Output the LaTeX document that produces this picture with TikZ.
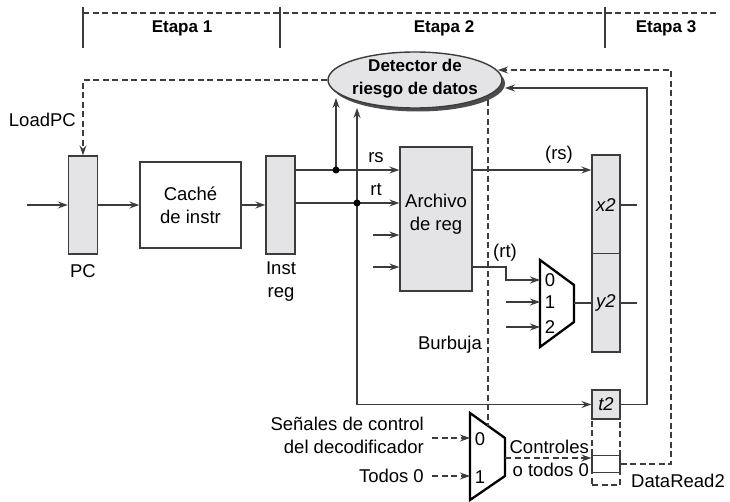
\documentclass[tikz,border=0pt]{standalone}
\usepackage{fontspec}
\setmainfont{Liberation Sans}
\usetikzlibrary{arrows.meta, shapes.geometric, shadows}
\definecolor{wirecol}{HTML}{3C3C3C}
\definecolor{regcol}{HTML}{E4E4E6}
\newcommand{\lblfont}{\fontsize{18.5}{23}\selectfont}
\newcommand{\stagefont}{\fontsize{17}{23}\selectfont\bfseries}
\tikzset{
    wire/.style={draw=wirecol, line width=1.4pt},
    arr/.style={wire, -{Stealth[length=10pt, width=7pt, inset=3.5pt]}},
    ctrl/.style={draw=wirecol, line width=1.3pt, dash pattern=on 6pt off 3.5pt},
    ctrlarr/.style={ctrl, -{Stealth[length=10pt, width=7pt, inset=3.5pt]}},
    pipereg/.style={draw=wirecol, line width=1.4pt, fill=regcol, minimum width=29pt, minimum height=98pt, inner sep=0, font=\lblfont},
    block/.style={draw=wirecol, line width=1.4pt, fill=white, inner sep=0, align=center, font=\lblfont},
    txt/.style={inner sep=0, align=center, font=\lblfont},
    boldtxt/.style={inner sep=0, align=center, font=\stagefont},
    junction/.style={circle, fill=black, inner sep=0, minimum size=7pt},
    muxbody/.style={draw=black, line width=2.3pt, line join=miter, fill=white},
    stagetick/.style={draw=wirecol, line width=1.2pt},
}

\begin{document}
\begin{tikzpicture}[x=1pt, y=-1pt]
    \useasboundingbox (0,0) rectangle (730,502);

    % stage bar
    \coordinate (barL) at (83,13);
    \coordinate (barR) at (716,13);
    \draw[ctrl, line width=1.1pt] (barL) -- (barR);
    \foreach \x in {83,280,605}
        \draw[stagetick] (\x,7) -- (\x,48);
    \node[boldtxt] (st1) at (182,28) {Etapa 1};
    \node[boldtxt] (st2) at (444,28) {Etapa 2};
    \node[boldtxt] (st3) at (666,28) {Etapa 3};

    % hazard detection unit
    \node[ellipse, draw=wirecol, line width=1.4pt, fill=regcol, minimum width=174pt, minimum height=56pt, inner sep=0,
          drop shadow={shadow xshift=3pt, shadow yshift=-3.5pt, fill=black!70, opacity=1}] (det) at (415,80) {};
    \node[boldtxt] (dettxt) at (415,78.5) {Detector de\\riesgo de datos};

    % stage 1 and 2 blocks
    \node[pipereg] (pc) at (83,205) {};
    \node[txt] (pclbl) at (83,271) {PC};
    \node[block, minimum width=101pt, minimum height=86pt] (cache) at (190.5,205) {Caché\\de instr};
    \node[pipereg] (ir) at (280.5,205) {};
    \node[txt] (irlbl) at (281,282) {Inst\\reg};
    \node[pipereg, minimum width=72pt, minimum height=144pt] (rf) at (436,219) {};
    \node[txt] (rftxt) at (436,214) {Archivo\\de reg};

    % stage 2/3 registers
    \node[pipereg, minimum width=28pt, minimum height=197pt] (rx) at (606,253.5) {};
    \draw[wire] (rx.west) -- (rx.east);
    \node[txt] (x2lbl) at (606,205) {\textit{x2}};
    \node[txt] (y2lbl) at (606,303) {\textit{y2}};
    \node[draw=wirecol, line width=1.3pt, dash pattern=on 6pt off 3.5pt, minimum width=28pt, minimum height=66pt, inner sep=0] (drbox) at (606,452) {};
    \node[pipereg, minimum width=28pt, minimum height=29pt] (t2) at (606,404.5) {\textit{t2}};
    \node[draw=wirecol, line width=1.4pt, fill=white, minimum width=28pt, minimum height=17pt, inner sep=0] (drreg) at (606,464) {};
    \node[txt] (drlbl) at (678,481) {DataRead2};

    % front end
    \coordinate (pcin) at (27,205);
    \draw[arr] (pcin) -- (pc);
    \draw[arr] (pc) -- (cache);
    \draw[arr] (cache) -- (ir);

    % LoadPC
    \coordinate (ldpc) at (83,80);
    \draw[ctrlarr] (det.west) -- (ldpc) -- (pc.north);
    \node[txt, anchor=east] (ldlbl) at (76,120) {LoadPC};

    % rs / rt fields
    \coordinate (rsj) at (336,170);
    \coordinate (rtj) at (357,203);
    \draw[arr] (ir.east |- rsj) -- (rsj -| rf.west);
    \draw[arr] (ir.east |- rtj) -- (rtj -| rf.west);
    \node[txt] (rslbl) at (376,158) {rs};
    \node[txt] (rtlbl) at (376,190) {rt};
    \coordinate (rstip) at (336,98);
    \coordinate (rttip) at (357,108);
    \draw[arr] (rsj) -- (rstip);
    \draw[arr] (rtj) -- (rttip);
    \draw[arr] (rtj) |- (t2.west);
    \coordinate (rfin3) at (373,235);
    \coordinate (rfin4) at (373,267);
    \draw[arr] (rfin3) -- (rfin3 -| rf.west);
    \draw[arr] (rfin4) -- (rfin4 -| rf.west);

    % data mux
    \coordinate (dmTL) at (540,260);
    \coordinate (dmTR) at (574,285);
    \coordinate (dmBR) at (574,322);
    \coordinate (dmBL) at (540,347);
    \draw[muxbody] (dmTL) -- (dmTR) -- (dmBR) -- (dmBL) -- cycle;
    \coordinate (dm0) at (540,280);
    \coordinate (dm1) at (540,302);
    \coordinate (dm2) at (540,327);
    \coordinate (dmout) at (574,303);
    \node[txt] (dm0lbl) at (550,280) {0};
    \node[txt] (dm1lbl) at (550,302) {1};
    \node[txt] (dm2lbl) at (550,327) {2};
    \coordinate (rtbend) at (506,267);
    \draw[arr] (rtbend -| rf.east) -- (rtbend) |- (dm0);
    \coordinate (dm1in) at (506,302);
    \coordinate (dm2in) at (506,327);
    \draw[arr] (dm1in) -- (dm1);
    \draw[arr] (dm2in) -- (dm2);
    \draw[wire] (dmout) -- (dmout -| rx.west);
    \node[txt] (rtolbl) at (505,253) {(rt)};
    \draw[arr] (rsj -| rf.east) -- (rsj -| rx.west);
    \node[txt] (rsolbl) at (559,155) {(rs)};

    % outputs of stage 2 register
    \coordinate (x2out) at (637,205);
    \coordinate (y2out) at (637,303);
    \draw[wire] (x2out -| rx.east) -- (x2out);
    \draw[wire] (y2out -| rx.east) -- (y2out);

    % control mux
    \coordinate (cmTL) at (470,413);
    \coordinate (cmTR) at (505,438);
    \coordinate (cmBR) at (505,476);
    \coordinate (cmBL) at (470,500);
    \draw[muxbody] (cmTL) -- (cmTR) -- (cmBR) -- (cmBL) -- cycle;
    \coordinate (cm0) at (470,438);
    \coordinate (cm1) at (470,476);
    \coordinate (cmout) at (505,458);
    \node[txt] (cm0lbl) at (480,439) {0};
    \node[txt] (cm1lbl) at (480,477) {1};
    \node[txt, align=right, anchor=east] (senlbl) at (424,435) {Señales de control\\del decodificador};
    \node[txt, anchor=east] (todlbl) at (424,476) {Todos 0};
    \coordinate (sen0) at (432,438);
    \coordinate (tod0) at (432,476);
    \draw[ctrlarr] (sen0) -- (cm0);
    \draw[ctrlarr] (tod0) -- (cm1);
    \draw[ctrlarr] (cmout) -- (cmout -| drreg.west);
    \node[txt, align=right, anchor=east] (ctllbl) at (589,458) {Controles\\o todos 0};

    % bubble
    \coordinate (bubtop) at (488,100);
    \coordinate (bubbot) at (488,426);
    \draw[ctrl] (bubtop) -- (bubbot);
    \node[txt, anchor=east] (bublbl) at (482,345) {Burbuja};

    % feedback to detector
    \coordinate (fbsolid) at (647,88);
    \coordinate (fbsolidtip) at (505,88);
    \draw[arr] (t2.east) -| (fbsolid) -- (fbsolidtip);
    \coordinate (fbdash) at (671,70);
    \coordinate (fbdashtip) at (498,70);
    \draw[ctrlarr] (drreg.east) -| (fbdash) -- (fbdashtip);

    % junctions
    \node[junction] (rsdot) at (rsj) {};
    \node[junction] (rtdot) at (rtj) {};
\end{tikzpicture}
\end{document}
